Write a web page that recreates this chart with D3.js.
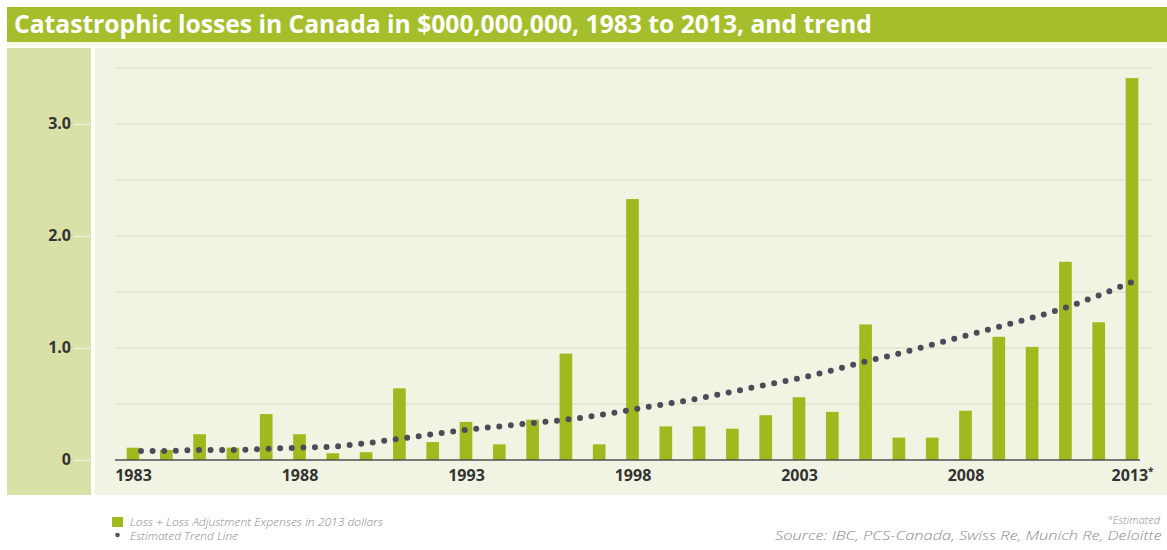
<!DOCTYPE html>
<html>
<head>
<meta charset="utf-8">
<script src="https://cdn.jsdelivr.net/npm/d3@7/dist/d3.min.js"></script>
<style>
  html, body { margin: 0; padding: 0; background: #ffffff; }
  svg { display: block; }
</style>
</head>
<body>
<svg id="chart" width="1167" height="550"></svg>
<script>
// Catastrophic losses in Canada, billions of 2013 dollars
const years = d3.range(1983, 2014);
const losses = [
  0.11, 0.09, 0.23, 0.11, 0.41, 0.23, 0.06, 0.07, 0.64, 0.16,
  0.34, 0.14, 0.36, 0.95, 0.14, 2.33, 0.30, 0.30, 0.28, 0.40,
  0.56, 0.43, 1.21, 0.20, 0.20, 0.44, 1.10, 1.01, 1.77, 1.23,
  3.41
];
const trend = [
  0.08, 0.08, 0.09, 0.09, 0.10, 0.11, 0.12, 0.15, 0.19, 0.23,
  0.27, 0.30, 0.33, 0.36, 0.40, 0.45, 0.50, 0.55, 0.61, 0.67,
  0.73, 0.80, 0.88, 0.95, 1.03, 1.11, 1.19, 1.27, 1.36, 1.47,
  1.59
];
const yTicks = [0, 1, 2, 3];
const gridValues = [0.5, 1, 1.5, 2, 2.5, 3, 3.5];
const xLabelYears = [1983, 1988, 1993, 1998, 2003, 2008, 2013];

const titleText = "Catastrophic losses in Canada in $000,000,000, 1983 to 2013, and trend";
const legendBarText = "Loss + Loss Adjustment Expenses in 2013 dollars";
const legendTrendText = "Estimated Trend Line";
const noteText = "*Estimated";
const sourceText = "Source: IBC, PCS-Canada, Swiss Re, Munich Re, Deloitte";

const C = {
  bar: "#9fba1e",
  titleBar: "#a5bf2c",
  sidePanel: "#d9e0a8",
  plotPanel: "#f1f4e2",
  grid: "#e1e5cc",
  axis: "#4f4f4f",
  label: "#333333",
  dots: "#4c4c58",
  note: "#8a8a8a"
};

const svg = d3.select("#chart");
const FONT = "'Open Sans', 'Noto Sans', sans-serif";

// fit a text element to a given width by adjusting font size
function fitWidth(sel, target) {
  const node = sel.node();
  const fs = parseFloat(sel.attr("font-size"));
  const w = node.getComputedTextLength();
  if (w > 0) sel.attr("font-size", (fs * target / w).toFixed(2));
}

// title band
svg.append("rect").attr("x", 7).attr("y", 7).attr("width", 1160).attr("height", 35).attr("fill", C.titleBar);
svg.append("rect").attr("x", 7).attr("y", 42).attr("width", 1160).attr("height", 5).attr("fill", "#f8f9e6");
const title = svg.append("text")
  .attr("x", 14).attr("y", 33)
  .attr("font-family", FONT).attr("font-weight", 700).attr("font-size", 21)
  .attr("fill", "#ffffff").text(titleText);
fitWidth(title, 858);

// panels
svg.append("rect").attr("x", 7).attr("y", 48).attr("width", 84).attr("height", 447).attr("fill", C.sidePanel);
svg.append("rect").attr("x", 95).attr("y", 48).attr("width", 1072).attr("height", 447).attr("fill", C.plotPanel);

// scales
const x = d3.scalePoint().domain(years).range([133, 1132]);
const y = d3.scaleLinear().domain([0, 3.5]).range([460, 68]);
const barW = x.step() * 0.38;

// gridlines
svg.append("g").selectAll("line").data(gridValues).join("line")
  .attr("x1", 115).attr("x2", 1153)
  .attr("y1", d => y(d)).attr("y2", d => y(d))
  .attr("stroke", C.grid).attr("stroke-width", 1.5);

// y axis labels with short pale ticks
const yAxis = d3.axisLeft(y).tickValues(yTicks).tickSize(16).tickPadding(3)
  .tickFormat(d => d === 0 ? "0" : d.toFixed(1));
const gy = svg.append("g").attr("transform", "translate(90,0)").call(yAxis);
gy.select(".domain").remove();
gy.selectAll(".tick line").attr("stroke", "#eef1d2").attr("stroke-width", 1.5);
gy.selectAll(".tick text")
  .attr("font-family", FONT).attr("font-weight", 700).attr("font-size", 16)
  .attr("fill", C.label).attr("dy", "0.3em");

// bars
svg.append("g").selectAll("rect").data(years).join("rect")
  .attr("x", (d) => x(d) - barW / 2)
  .attr("width", barW)
  .attr("y", (d, i) => y(losses[i]))
  .attr("height", (d, i) => y(0) - y(losses[i]))
  .attr("fill", C.bar);

// x axis
const xAxis = d3.axisBottom(x).tickValues(xLabelYears).tickSize(0).tickPadding(10)
  .tickFormat(d => String(d));
const gx = svg.append("g").attr("transform", `translate(0,${y(0)})`).call(xAxis);
gx.select(".domain").remove();
gx.selectAll(".tick text")
  .attr("font-family", FONT).attr("font-weight", 700).attr("font-size", 16)
  .attr("fill", C.label);
gx.selectAll(".tick").filter(d => d === 2013).select("text")
  .append("tspan").attr("font-size", 10).attr("dy", "-0.6em").text("*");
svg.append("line")
  .attr("x1", 115).attr("x2", 1140)
  .attr("y1", y(0)).attr("y2", y(0))
  .attr("stroke", C.axis).attr("stroke-width", 1.6);

// dotted trend line
const line = d3.line()
  .x((d, i) => x(years[i]) + (i === 0 ? 8 : 0))
  .y(d => y(d))
  .curve(d3.curveMonotoneX);
svg.append("path").datum(trend)
  .attr("d", line)
  .attr("fill", "none")
  .attr("stroke", C.dots)
  .attr("stroke-width", 6)
  .attr("stroke-linecap", "round")
  .attr("stroke-dasharray", "0 11.6");

// legend
svg.append("rect").attr("x", 112).attr("y", 517).attr("width", 11).attr("height", 10).attr("fill", C.bar);
svg.append("circle").attr("cx", 117.5).attr("cy", 535).attr("r", 2.3).attr("fill", "#555");
const smallText = (sx, sy, txt, size) => svg.append("text")
  .attr("x", sx).attr("y", sy)
  .attr("font-family", FONT).attr("font-style", "italic").attr("font-weight", 300)
  .attr("font-size", size).attr("fill", C.note)
  .text(txt);
smallText(130, 526, legendBarText, 10.5).attr("textLength", 253).attr("lengthAdjust", "spacingAndGlyphs");
smallText(130, 540, legendTrendText, 10.5).attr("textLength", 108).attr("lengthAdjust", "spacingAndGlyphs");

// notes, right-aligned
smallText(1160, 524, noteText, 11).attr("text-anchor", "end");
smallText(1162 - 387, 540, sourceText, 12.5).attr("textLength", 387).attr("lengthAdjust", "spacingAndGlyphs");
</script>
</body>
</html>
